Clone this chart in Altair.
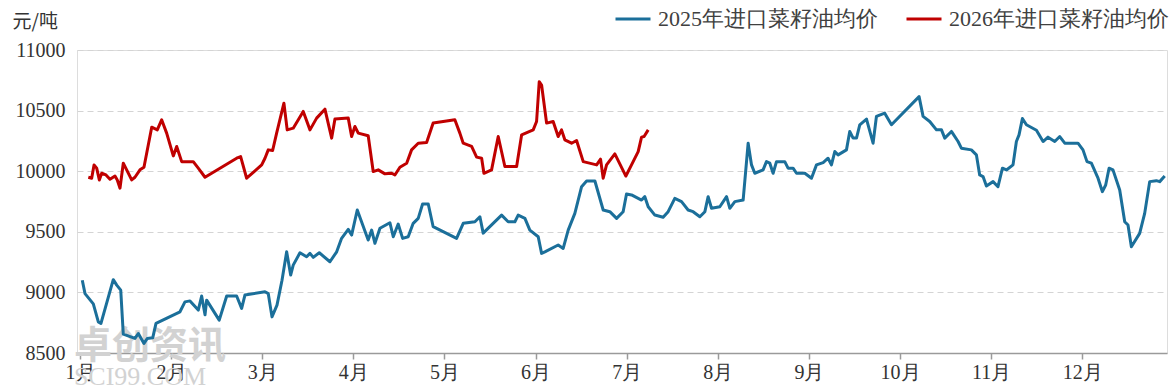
import altair as alt
import pandas as pd

# ---- data ----
# x = position on the month axis (0 = 1月 tick, 1 = 2月 tick, ...)
series_names = ["2025年进口菜籽油均价", "2026年进口菜籽油均价"]
series_colors = ["#1b6f9a", "#c00000"]
month_ticks = list(range(12))
y_ticks = [8500, 9000, 9500, 10000, 10500, 11000]

pos_2025 = [
    0.025, 0.055, 0.146, 0.201, 0.230, 0.365, 0.403, 0.447, 0.475, 0.603,
    0.640, 0.702, 0.738, 0.798, 0.834, 1.097, 1.152, 1.207, 1.298, 1.335,
    1.372, 1.390, 1.528, 1.610, 1.719, 1.774, 1.810, 2.030, 2.066, 2.107,
    2.162, 2.217, 2.268, 2.312, 2.340, 2.414, 2.487, 2.524, 2.560, 2.626,
    2.743, 2.817, 2.871, 2.944, 2.981, 3.043, 3.163, 3.201, 3.237, 3.292,
    3.401, 3.438, 3.492, 3.541, 3.602, 3.657, 3.712, 3.760, 3.822, 3.876,
    4.133, 4.206, 4.334, 4.389, 4.425, 4.627, 4.699, 4.773, 4.809, 4.883,
    4.937, 5.029, 5.066, 5.102, 5.248, 5.303, 5.358, 5.431, 5.505, 5.560,
    5.651, 5.742, 5.815, 5.889, 5.961, 5.998, 6.053, 6.163, 6.199, 6.236,
    6.309, 6.400, 6.455, 6.528, 6.602, 6.674, 6.729, 6.803, 6.858, 6.894,
    6.931, 7.022, 7.096, 7.132, 7.187, 7.278, 7.333, 7.370, 7.406, 7.497,
    7.534, 7.571, 7.607, 7.644, 7.735, 7.771, 7.826, 7.864, 7.955, 8.028,
    8.083, 8.156, 8.210, 8.247, 8.284, 8.320, 8.412, 8.448, 8.485, 8.522,
    8.558, 8.632, 8.704, 8.741, 8.832, 8.906, 9.209, 9.253, 9.326, 9.400,
    9.455, 9.491, 9.564, 9.637, 9.673, 9.783, 9.838, 9.874, 9.911, 9.948,
    10.021, 10.075, 10.124, 10.168, 10.240, 10.277, 10.306, 10.343, 10.387, 10.497,
    10.570, 10.624, 10.698, 10.753, 10.808, 10.953, 11.008, 11.052, 11.100, 11.173,
    11.221, 11.257, 11.294, 11.337, 11.411, 11.466, 11.502, 11.539, 11.630, 11.685,
    11.740, 11.813, 11.850, 11.905,
]
val_2025 = [
    9100, 8990, 8905, 8757, 8744, 9105, 9060, 9019, 8655, 8620,
    8661, 8579, 8620, 8625, 8744, 8840, 8922, 8930, 8854, 8970,
    8815, 8936, 8771, 8970, 8970, 8868, 8978, 9005, 8990, 8798,
    8895, 9100, 9335, 9143, 9225, 9327, 9294, 9322, 9289, 9327,
    9253, 9335, 9446, 9520, 9473, 9680, 9432, 9514, 9405, 9529,
    9575, 9459, 9564, 9446, 9459, 9570, 9611, 9729, 9729, 9542,
    9446, 9570, 9583, 9624, 9489, 9638, 9583, 9583, 9638, 9611,
    9514, 9459, 9322, 9335, 9391, 9363, 9514, 9652, 9872, 9919,
    9919, 9680, 9666, 9611, 9666, 9812, 9804, 9762, 9790, 9707,
    9638, 9620, 9666, 9776, 9749, 9680, 9666, 9624, 9666, 9790,
    9694, 9707, 9790, 9694, 9749, 9762, 10231, 10052, 9983, 10011,
    10079, 10066, 9983, 10079, 10079, 10025, 10025, 9983, 9983, 9942,
    10052, 10071, 10107, 10052, 10162, 10135, 10176, 10328, 10273, 10273,
    10383, 10430, 10231, 10452, 10479, 10383, 10615, 10452, 10410, 10341,
    10341, 10273, 10328, 10245, 10190, 10176, 10135, 9969, 9956, 9878,
    9914, 9872, 10025, 10010, 10052, 10245, 10300, 10435, 10383, 10338,
    10245, 10281, 10245, 10286, 10231, 10231, 10176, 10079, 10066, 9942,
    9831, 9886, 10025, 10011, 9845, 9583, 9556, 9377, 9487, 9652,
    9914, 9922, 9914, 9960,
]

pos_2026 = [
    0.091, 0.128, 0.154, 0.183, 0.212, 0.238, 0.285, 0.329, 0.384, 0.409,
    0.439, 0.475, 0.567, 0.603, 0.658, 0.702, 0.787, 0.848, 0.896, 0.951,
    1.024, 1.061, 1.116, 1.243, 1.298, 1.372, 1.719, 1.763, 1.829, 1.994,
    2.030, 2.066, 2.114, 2.158, 2.238, 2.274, 2.340, 2.450, 2.524, 2.597,
    2.688, 2.762, 2.798, 2.944, 2.981, 3.017, 3.054, 3.163, 3.218, 3.273,
    3.347, 3.420, 3.456, 3.511, 3.585, 3.639, 3.712, 3.804, 3.876, 4.114,
    4.169, 4.206, 4.298, 4.353, 4.408, 4.433, 4.517, 4.590, 4.663, 4.792,
    4.847, 4.974, 5.011, 5.040, 5.066, 5.121, 5.193, 5.248, 5.285, 5.321,
    5.395, 5.450, 5.523, 5.670, 5.713, 5.742, 5.779, 5.870, 5.991, 6.053,
    6.126, 6.163, 6.191, 6.236,
]
val_2026 = [
    9950, 9942, 10052, 10025, 9928, 9983, 9969, 9933, 9960, 9928,
    9860, 10066, 9928, 9950, 10011, 10033, 10363, 10341, 10424, 10314,
    10126, 10204, 10079, 10079, 10025, 9950, 10107, 10121, 9942, 10052,
    10107, 10176, 10171, 10314, 10561, 10341, 10355, 10493, 10341, 10438,
    10512, 10273, 10430, 10438, 10286, 10369, 10314, 10292, 9997, 10011,
    9978, 9983, 9969, 10033, 10066, 10176, 10231, 10237, 10397, 10424,
    10314, 10231, 10204, 10116, 10107, 9983, 10011, 10286, 10039, 10039,
    10300, 10341, 10410, 10738, 10711, 10397, 10410, 10286, 10341, 10259,
    10231, 10253, 10079, 10052, 10099, 9942, 10052, 10143, 9960, 10052,
    10162, 10281, 10286, 10341,
]

df = pd.concat([
    pd.DataFrame({"pos": pos_2025, "value": val_2025, "series": series_names[0]}),
    pd.DataFrame({"pos": pos_2026, "value": val_2026, "series": series_names[1]}),
], ignore_index=True)

NUM_FONT = "Liberation Serif"
CJK_FONT = "Noto Sans CJK SC"

lines = alt.Chart(df).mark_line(strokeWidth=3, strokeJoin="round").encode(
    x=alt.X(
        "pos:Q",
        scale=alt.Scale(domain=[-0.033, 11.93], nice=False, zero=False),
        axis=alt.Axis(
            values=month_ticks,
            labelExpr="(datum.value + 1) + '月'",
            title=None,
            grid=False,
            domain=True,
            domainColor="#9a9a9a",
            domainWidth=1.5,
            ticks=True,
            tickColor="#9a9a9a",
            tickWidth=1.5,
            tickSize=6,
            labelFont=NUM_FONT,
            labelFontSize=20,
            labelColor="#333333",
            labelPadding=3,
        ),
    ),
    y=alt.Y(
        "value:Q",
        scale=alt.Scale(domain=[8500, 11000], nice=False, zero=False),
        axis=alt.Axis(
            values=y_ticks,
            format="d",
            title="元/吨",
            titleAngle=0,
            titleX=-65,
            titleY=-23,
            titleAlign="left",
            titleBaseline="alphabetic",
            titleFont=CJK_FONT,
            titleFontSize=19,
            titleFontWeight="normal",
            titleColor="#333333",
            grid=True,
            gridDash=[6, 4],
            gridColor="#d4d4d4",
            gridWidth=1,
            domain=False,
            ticks=False,
            labelFont=NUM_FONT,
            labelFontSize=20,
            labelColor="#333333",
            labelPadding=12,
        ),
    ),
    color=alt.Color(
        "series:N",
        scale=alt.Scale(domain=series_names, range=series_colors),
        legend=alt.Legend(
            title=None,
            orient="none",
            legendX=537,
            legendY=-50,
            direction="horizontal",
            symbolType="stroke",
            symbolStrokeWidth=3,
            symbolSize=1225,
            labelFont=NUM_FONT,
            labelFontSize=22,
            labelColor="#404040",
            labelOffset=6,
            labelLimit=0,
            columnPadding=22,
            padding=0,
        ),
    ),
)

wm1 = alt.Chart(pd.DataFrame({"t": ["卓创资讯"]})).mark_text(
    font=CJK_FONT, fontSize=38, fontWeight="bold", color="#d2d2d2", align="center", baseline="middle"
).encode(text="t:N", x=alt.value(73), y=alt.value(297))

wm2 = alt.Chart(pd.DataFrame({"t": ["SCI99.COM"]})).mark_text(
    font="Liberation Serif", fontSize=26, color="#d2d2d2", align="center", baseline="middle"
).encode(text="t:N", x=alt.value(63), y=alt.value(327))

chart = alt.layer(wm1, wm2, lines).properties(
    width=1090,
    height=303,
    autosize=alt.AutoSizeParams(type="none"),
    padding={"left": 77, "top": 50, "right": 7, "bottom": 39},
).configure_view(stroke=None).configure(background="white")

chart.save("out.html", embed_options={"renderer": "svg", "actions": False})
